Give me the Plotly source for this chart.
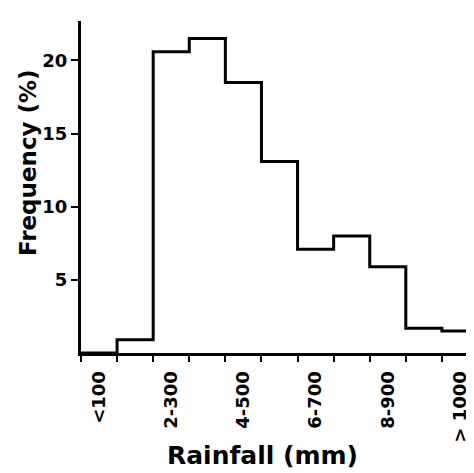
import plotly.graph_objects as go

categories = ["<100", "1-200", "2-300", "3-400", "4-500", "5-600",
              "6-700", "7-800", "8-900", "9-1000", "> 1000"]
frequency = [0.0, 0.9, 20.6, 21.5, 18.5, 13.1, 7.1, 8.0, 5.9, 1.7, 1.5]
label_every = 2  # only every other category is labelled

idx = list(range(len(categories)))
# step outline through bin edges
xs = [i - 0.5 for i in idx] + [idx[-1] + 0.5, idx[-1] + 0.5]
ys = frequency + [frequency[-1], 0.0]

tickvals = [i for i in idx if i % label_every == 0]
ticktext = [categories[i] for i in tickvals]

font_family = "DejaVu Sans"

fig = go.Figure()
fig.add_trace(go.Scatter(
    x=xs, y=ys, mode="lines", line=dict(color="black", width=3, shape="hv"),
    showlegend=False, hoverinfo="skip"))

fig.update_layout(
    width=474, height=473,
    margin=dict(l=73, r=4, t=13, b=128),
    paper_bgcolor="white", plot_bgcolor="white",
    font=dict(family=font_family, color="black", size=16),
    xaxis=dict(
        range=[-0.5, len(categories) - 0.5], showgrid=False, zeroline=False,
        showline=True, linecolor="black", linewidth=3,
        tickmode="array", tickvals=tickvals, ticktext=ticktext,
        ticks="", tickangle=-90, ticklabelstandoff=8,
        tickfont=dict(family=font_family, size=18, weight="bold"),
        minor=dict(tickmode="linear", tick0=0.5, dtick=1, ticks="outside",
                   ticklen=6, tickwidth=2, tickcolor="black", showgrid=False),
    ),
    yaxis=dict(
        range=[0, 22.7], showgrid=False, zeroline=False,
        showline=True, linecolor="black", linewidth=3,
        tickmode="array", tickvals=[5, 10, 15, 20],
        ticks="outside", ticklen=7, tickwidth=2, tickcolor="black",
        tickfont=dict(family=font_family, size=18, weight="bold"),
    ),
    annotations=[
        dict(text="Rainfall (mm)", xref="paper", yref="paper",
             x=0.458, y=-0.31, xanchor="center", yanchor="middle",
             showarrow=False,
             font=dict(family=font_family, size=25, weight="bold")),
        dict(text="Frequency (%)", xref="paper", yref="paper",
             x=-0.1335, y=0.572, xanchor="center", yanchor="middle",
             textangle=-90, showarrow=False,
             font=dict(family=font_family, size=23, weight="bold")),
    ],
)

fig.write_html("out.html")
